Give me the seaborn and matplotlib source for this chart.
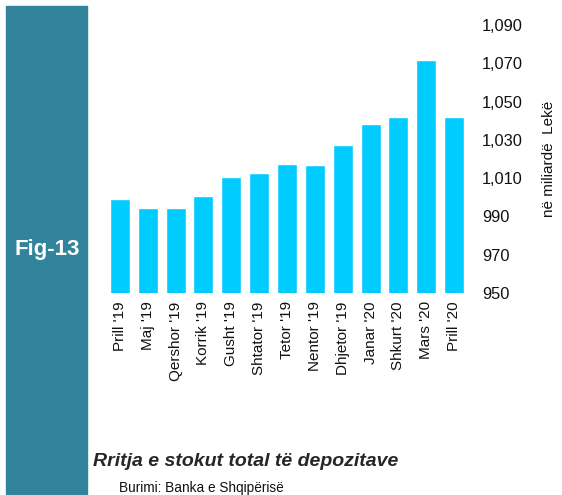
import matplotlib
matplotlib.use("Agg")
import matplotlib.pyplot as plt
import seaborn as sns
import pandas as pd
from matplotlib.ticker import FuncFormatter

# data
months = ["Prill '19", "Maj '19", "Qershor '19", "Korrik '19", "Gusht '19",
          "Shtator '19", "Tetor '19", "Nentor '19", "Dhjetor '19",
          "Janar '20", "Shkurt '20", "Mars '20", "Prill '20"]
deposits = [999, 994.5, 994.5, 1000.8, 1010.6, 1012.7, 1017.4, 1016.9,
            1027.3, 1038.3, 1042, 1071.7, 1042]
y_ticks = [950, 970, 990, 1010, 1030, 1050, 1070, 1090]

df = pd.DataFrame({"month": months, "value": deposits})

sns.set_style("white")
plt.rcParams["font.family"] = ["Liberation Sans", "DejaVu Sans"]

fig = plt.figure(figsize=(5.62, 4.95), dpi=100)

# teal side band with the figure label
fig.patches.append(plt.Rectangle((6 / 562, 0), 81 / 562, 1 - 6 / 495,
                                 transform=fig.transFigure,
                                 color="#31849B", zorder=0))
fig.text(47 / 562, 1 - 250 / 495, "Fig-13", color="white",
         fontsize=16, fontweight="bold", ha="center", va="center")

ax = fig.add_axes([106 / 562, 1 - 293 / 495, 362 / 562, 268 / 495])
sns.barplot(data=df, x="month", y="value", color="#00CCFF",
            width=0.72, saturation=1, ax=ax)

ax.set_ylim(950, 1090)
ax.set_xlim(-0.5, len(months) - 0.5)
ax.set_yticks(y_ticks)
ax.yaxis.set_major_formatter(FuncFormatter(lambda v, p: f"{v:,.0f}"))
ax.yaxis.tick_right()
ax.yaxis.set_label_position("right")
ax.set_ylabel("në miliardë  Lekë", fontsize=11, labelpad=14, color="#111111")
ax.set_xlabel("")
ax.tick_params(axis="y", length=0, labelsize=11.8, pad=10, labelcolor="#111111")
ax.tick_params(axis="x", length=0, labelsize=11, pad=6, rotation=90,
               labelcolor="#111111")
for s in ax.spines.values():
    s.set_visible(False)

# title and source
fig.text(93 / 562, 1 - 462 / 495, "Rritja e stokut total të depozitave",
         fontsize=14, fontweight="bold", fontstyle="italic",
         ha="left", va="center")
fig.text(119 / 562, 1 - 488 / 495, "Burimi: Banka e Shqipërisë",
         fontsize=9.8, ha="left", va="center", color="#111111")

plt.savefig("out.png", dpi=100)
